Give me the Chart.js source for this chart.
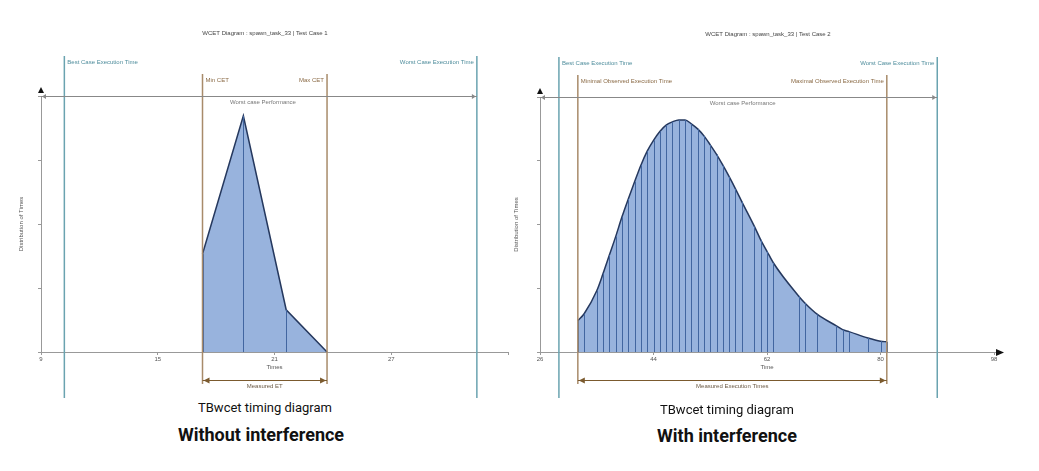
<!DOCTYPE html>
<html>
<head>
<meta charset="utf-8">
<script src="https://cdn.jsdelivr.net/npm/chart.js@4.4.1/dist/chart.umd.min.js"></script>
<style>
  body { margin: 0; background: #fff; width: 1039px; height: 471px; overflow: hidden; position: relative; font-family: Roboto, "Noto Sans", sans-serif; }
  canvas { position: absolute; top: 0; }
  #chartSin { left: 0; }
  #chartCon { left: 500px; }
  .cap { position: absolute; text-align: center; color: #111; white-space: nowrap; }
  .sub { font-size: 13px; line-height: 16px; }
  .main { font-size: 18px; line-height: 22px; font-weight: bold; }
</style>
</head>
<body>
<canvas id="chartSin" width="520" height="400"></canvas>
<canvas id="chartCon" width="539" height="400"></canvas>
<div class="cap sub" style="left:165px;width:200px;top:400px">TBwcet timing diagram</div>
<div class="cap main" style="left:161px;width:200px;top:424px">Without interference</div>
<div class="cap sub" style="left:627px;width:200px;top:402px">TBwcet timing diagram</div>
<div class="cap main" style="left:627px;width:200px;top:425px">With interference</div>
<script>
// Test Case 1 - sin interferencia
const timesSin = [17.3, 19.4, 21.6, 23.7];
const distSin = [1.53, 3.69, 0.66, 0];
const xTicksSin = ["9", "15", "21", "27", ""];
const boundsSin = [10.2, 31.4]; // best / worst case

// Test Case 2 - con interferencia
const timesCon = [32, 33, 35, 36, 37, 38, 39, 40, 41, 42, 43, 44, 45, 46, 47, 48, 49, 50, 51, 52, 53, 54, 55, 56, 57, 58,
  60, 61, 62, 63, 67, 68, 70, 73, 74, 75, 78, 80, 81];
const distCon = [0.49, 0.60, 0.96, 1.23, 1.52, 1.81, 2.12, 2.40, 2.67, 2.93, 3.15, 3.32, 3.46, 3.56, 3.61, 3.64, 3.64, 3.58, 3.50, 3.39, 3.25, 3.10, 2.93, 2.75, 2.56, 2.36,
  1.97, 1.76, 1.58, 1.40, 0.88, 0.77, 0.59, 0.41, 0.35, 0.32, 0.22, 0.17, 0.16];
const xTicksCon = ["26", "44", "62", "80", "98"];
const boundsCon = [29, 89];

Chart.defaults.font.family = "'Liberation Sans', Arial, sans-serif";

// lineas de referencia, flechas y textos
const wcetPlugin = {
  id: "wcet",
  afterDatasetsDraw(chart) {
    const { ctx, chartArea: a } = chart;
    ctx.save();
    ctx.strokeStyle = "#4266a0";
    ctx.lineWidth = 1;
    chart.getDatasetMeta(0).data.forEach(p => {
      const px = Math.round(p.x) + 0.5;
      ctx.beginPath();
      ctx.moveTo(px, p.y);
      ctx.lineTo(px, a.bottom);
      ctx.stroke();
    });
    ctx.restore();
  },
  afterDraw(chart, args, opts) {
    const { ctx, chartArea: a, scales: { x } } = chart;
    const xb = x.getPixelForValue(opts.bounds[0]);
    const xw = x.getPixelForValue(opts.bounds[1]);
    const xmin = x.getPixelForValue(opts.range[0]);
    const xmax = x.getPixelForValue(opts.range[1]);
    ctx.save();
    ctx.font = "6px 'Liberation Sans', Arial, sans-serif";
    ctx.textBaseline = "middle";

    // titulo
    ctx.fillStyle = "#444";
    ctx.textAlign = "center";
    ctx.fillText(opts.title, opts.titleX, a.top - 63);

    // best / worst case
    ctx.strokeStyle = "#6aa3b0";
    ctx.lineWidth = 1.5;
    [xb, xw].forEach(px => {
      ctx.beginPath();
      ctx.moveTo(px, a.top - 40);
      ctx.lineTo(px, chart.height - 2);
      ctx.stroke();
    });
    ctx.fillStyle = "#4f8d9c";
    ctx.textAlign = "left";
    ctx.fillText("Best Case Execution Time", xb + 3, a.top - 34);
    ctx.textAlign = "right";
    ctx.fillText("Worst Case Execution Time", xw - 3, a.top - 34);

    // min / max observado
    ctx.strokeStyle = "#a88b6a";
    [xmin, xmax].forEach(px => {
      ctx.beginPath();
      ctx.moveTo(px, a.top - 22);
      ctx.lineTo(px, a.bottom + 32);
      ctx.stroke();
    });
    ctx.fillStyle = "#8a6a45";
    ctx.textAlign = "left";
    ctx.fillText(opts.minLabel, xmin + 3, a.top - 16);
    ctx.textAlign = "right";
    ctx.fillText(opts.maxLabel, xmax - 3, a.top - 16);

    // worst case performance
    ctx.strokeStyle = "#888";
    ctx.fillStyle = "#888";
    ctx.lineWidth = 1;
    ctx.beginPath();
    ctx.moveTo(a.left, a.top + 0.5);
    ctx.lineTo(xw, a.top + 0.5);
    ctx.stroke();
    ctx.beginPath();
    ctx.moveTo(a.left + 1, a.top + 0.5); ctx.lineTo(a.left + 5, a.top - 2); ctx.lineTo(a.left + 5, a.top + 3);
    ctx.fill();
    ctx.beginPath();
    ctx.moveTo(xw - 1, a.top + 0.5); ctx.lineTo(xw - 5, a.top - 2); ctx.lineTo(xw - 5, a.top + 3);
    ctx.fill();
    ctx.fillStyle = "#777";
    ctx.textAlign = "center";
    ctx.fillText("Worst case Performance", (a.left + xw) / 2 + 4, a.top + 6);

    // flecha eje y
    ctx.fillStyle = "#111";
    ctx.beginPath();
    ctx.moveTo(a.left, a.top - 9); ctx.lineTo(a.left - 3, a.top - 3); ctx.lineTo(a.left + 3, a.top - 3);
    ctx.fill();

    // flecha eje x
    if (opts.xArrow) {
      ctx.strokeStyle = "#999";
      ctx.beginPath();
      ctx.moveTo(a.right, a.bottom + 0.5);
      ctx.lineTo(a.right + 4, a.bottom + 0.5);
      ctx.stroke();
      ctx.beginPath();
      ctx.moveTo(a.right + 10, a.bottom + 0.5); ctx.lineTo(a.right + 2, a.bottom - 3); ctx.lineTo(a.right + 2, a.bottom + 4);
      ctx.fill();
    }

    // tiempos medidos
    const ym = a.bottom + 28.5;
    ctx.strokeStyle = "#7b5a2e";
    ctx.fillStyle = "#7b5a2e";
    ctx.lineWidth = 1.2;
    ctx.beginPath();
    ctx.moveTo(xmin, ym);
    ctx.lineTo(xmax, ym);
    ctx.stroke();
    ctx.beginPath();
    ctx.moveTo(xmin + 1, ym); ctx.lineTo(xmin + 7, ym - 3); ctx.lineTo(xmin + 7, ym + 3);
    ctx.fill();
    ctx.beginPath();
    ctx.moveTo(xmax - 1, ym); ctx.lineTo(xmax - 7, ym - 3); ctx.lineTo(xmax - 7, ym + 3);
    ctx.fill();
    ctx.fillStyle = "#6b5a45";
    ctx.textAlign = "center";
    ctx.fillText(opts.measuredLabel, (xmin + xmax) / 2, ym + 6);
    ctx.restore();
  }
};

function buildChart(id, times, dist, xTicks, xMin, xMax, step, smooth, cfg) {
  return new Chart(document.getElementById(id), {
    type: "line",
    data: {
      datasets: [
        {
          data: times.map((t, i) => ({ x: t, y: dist[i] })),
          backgroundColor: "#98b3dd",
          borderColor: "#25385e",
          borderWidth: 1.5,
          pointRadius: 0,
          fill: "origin",
          tension: 0,
          cubicInterpolationMode: smooth ? "monotone" : "default",
        },
      ],
    },
    options: {
      responsive: false,
      animation: false,
      layout: { padding: { left: 0, right: cfg.padRight, top: cfg.chartTop, bottom: 28 } },
      plugins: {
        legend: { display: false },
        tooltip: { enabled: false },
        title: { display: false },
        wcet: cfg.wcet,
      },
      scales: {
        x: {
          type: "linear",
          min: xMin,
          max: xMax,
          ticks: {
            stepSize: step,
            color: "#555",
            font: { size: 6 },
            padding: 1,
            maxRotation: 0,
            callback: (v, i) => xTicks[i],
          },
          grid: { drawOnChartArea: false, tickLength: 3, color: "#999" },
          border: { color: "#999" },
          title: { display: true, text: cfg.xTitle, color: "#555", font: { size: 6 }, padding: { top: 0, bottom: 1 } },
          afterFit: s => { s.height = 20; },
        },
        y: {
          min: 0,
          max: 4,
          ticks: { display: false, stepSize: 1 },
          grid: { drawOnChartArea: false, tickLength: 3, color: "#999" },
          border: { color: "#999" },
          title: { display: true, text: "Distribution of Times", color: "#555", font: { size: 6 }, padding: { top: cfg.yTitlePad } },
          afterFit: s => { s.width = cfg.yWidth; },
        },
      },
    },
    plugins: [wcetPlugin],
  });
}

buildChart("chartSin", timesSin, distSin, xTicksSin, 9, 33, 6, false, {
  chartTop: 96, padRight: 12, yWidth: 41, yTitlePad: 18,
  xTitle: "Times",
  wcet: {
    title: "WCET Diagram : spawn_task_33 | Test Case 1", titleX: 265,
    bounds: boundsSin, range: [timesSin[0], timesSin[timesSin.length - 1]],
    minLabel: "Min CET", maxLabel: "Max CET", measuredLabel: "Measured ET", xArrow: false,
  },
});

buildChart("chartCon", timesCon, distCon, xTicksCon, 26, 98, 18, true, {
  chartTop: 97, padRight: 45, yWidth: 40, yTitlePad: 13,
  xTitle: "Time",
  wcet: {
    title: "WCET Diagram : spawn_task_33 | Test Case 2", titleX: 268,
    bounds: boundsCon, range: [timesCon[0], timesCon[timesCon.length - 1]],
    minLabel: "Minimal Observed Execution Time", maxLabel: "Maximal Observed Execution Time", measuredLabel: "Measured Execution Times", xArrow: true,
  },
});
</script>
</body>
</html>
